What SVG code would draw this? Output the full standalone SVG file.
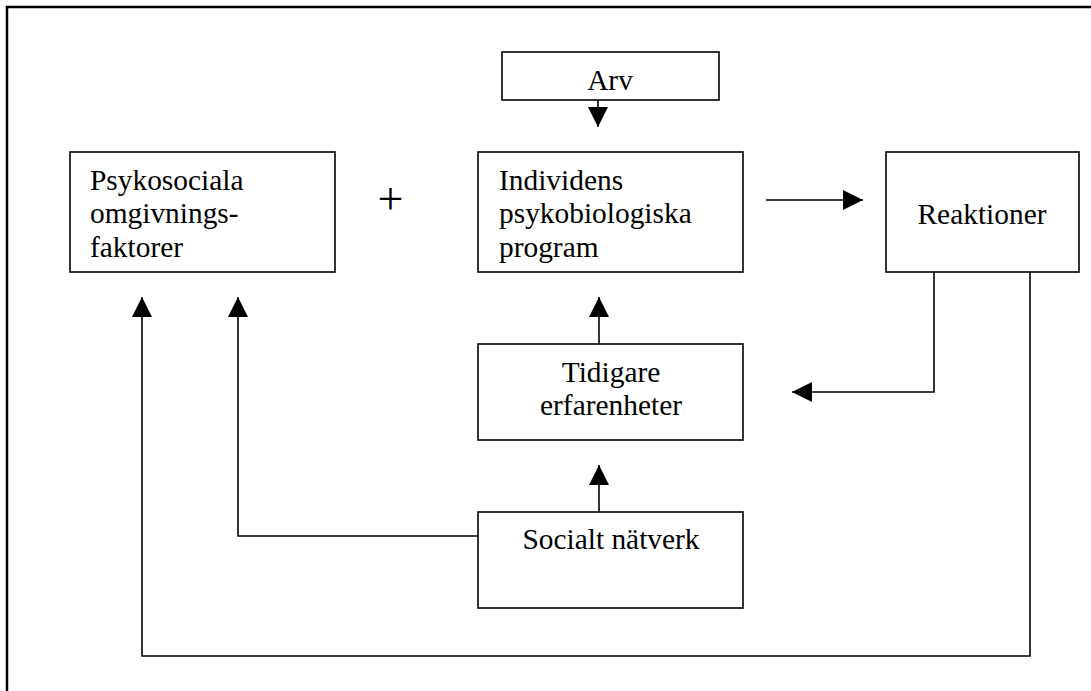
<svg xmlns="http://www.w3.org/2000/svg" width="1091" height="691" viewBox="0 0 1091 691">
<style>
  .box { fill: #ffffff; stroke: #000000; stroke-width: 1.6; }
  .lbl { font-family: "Liberation Serif", "Times New Roman", serif; font-size: 29.4px; fill: #000000; }
  .mid { text-anchor: middle; }
  .conn { fill: none; stroke: #000000; stroke-width: 1.6; }
</style>
<defs>
  <marker id="arrow" viewBox="0 0 20 20" refX="20" refY="10" markerWidth="20" markerHeight="20" markerUnits="userSpaceOnUse" orient="auto">
    <path d="M0,0 L20,10 L0,20 z" fill="#000000"/>
  </marker>
</defs>
<rect x="0" y="0" width="1091" height="691" fill="#ffffff"/>
<path d="M7,691 V7 H1091" fill="none" stroke="#000000" stroke-width="2.5"/>

<g id="psykosociala">
  <rect class="box" x="70" y="152" width="265" height="120"/>
  <text class="lbl" x="90" y="190">Psykosociala</text>
  <text class="lbl" x="90" y="223">omgivnings-</text>
  <text class="lbl" x="90" y="257">faktorer</text>
</g>
<g id="plus">
  <text class="lbl" x="390.5" y="214" text-anchor="middle" style="font-size:46px">+</text>
</g>
<g id="arv">
  <rect class="box" x="502" y="52" width="217" height="48"/>
  <text class="lbl mid" x="610" y="90">Arv</text>
</g>
<g id="individens">
  <rect class="box" x="478" y="152" width="265" height="120"/>
  <text class="lbl" x="499" y="190">Individens</text>
  <text class="lbl" x="499" y="223">psykobiologiska</text>
  <text class="lbl" x="499" y="257">program</text>
</g>
<g id="reaktioner">
  <rect class="box" x="886" y="152" width="193" height="120"/>
  <text class="lbl mid" x="982" y="224">Reaktioner</text>
</g>
<g id="tidigare">
  <rect class="box" x="478" y="344" width="265" height="96"/>
  <text class="lbl mid" x="611" y="382">Tidigare</text>
  <text class="lbl mid" x="611" y="415">erfarenheter</text>
</g>
<g id="socialt">
  <rect class="box" x="478" y="512" width="265" height="96"/>
  <text class="lbl mid" x="611" y="549">Socialt nätverk</text>
</g>

<g id="connectors">
  <path class="conn" d="M598,100 V127" marker-end="url(#arrow)"/>
  <path class="conn" d="M766,200 H863" marker-end="url(#arrow)"/>
  <path class="conn" d="M599,344 V297" marker-end="url(#arrow)"/>
  <path class="conn" d="M599,512 V465" marker-end="url(#arrow)"/>
  <path class="conn" d="M934,272 V392 H792" marker-end="url(#arrow)"/>
  <path class="conn" d="M478,536 H238 V297" marker-end="url(#arrow)"/>
  <path class="conn" d="M1030,272 V656 H142 V297" marker-end="url(#arrow)"/>
</g>
</svg>
